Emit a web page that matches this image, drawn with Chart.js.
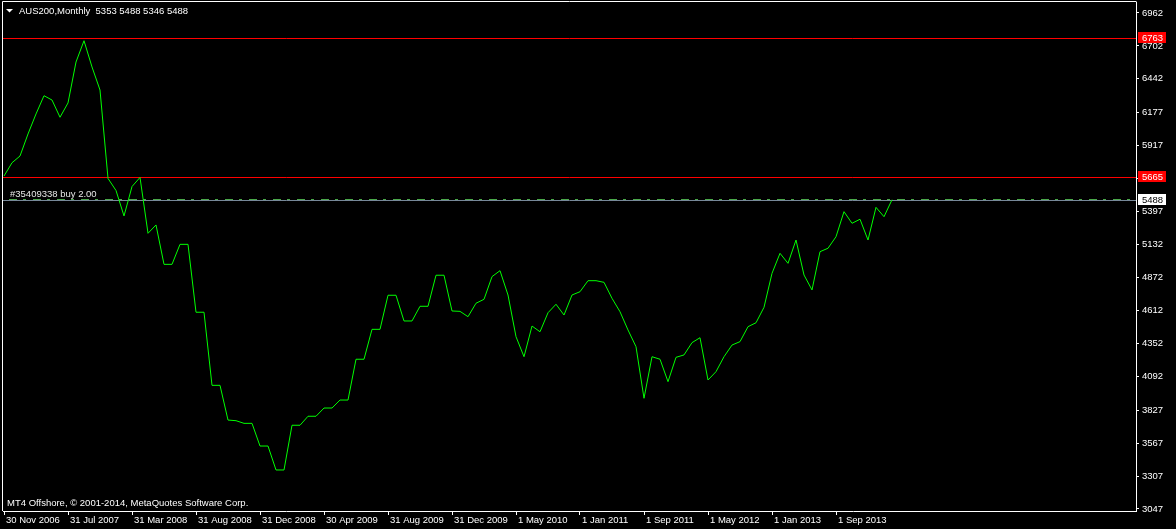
<!DOCTYPE html>
<html>
<head>
<meta charset="utf-8">
<script src="https://cdn.jsdelivr.net/npm/chart.js@4.4.1/dist/chart.umd.min.js"></script>
<style>
  html, body { margin: 0; padding: 0; background: #000; }
  #wrap { width: 1176px; height: 529px; }
</style>
</head>
<body>
<div id="wrap"><canvas id="mt4Chart" width="1176" height="529"></canvas></div>
<script>
// AUS200 monthly closes, one value per bar (MT4 line chart)
const closes = [
  5675, 5780, 5833, 6007, 6165, 6309, 6275, 6139, 6252, 6575,
  6743, 6536, 6354, 5656, 5561, 5360, 5592, 5664, 5223, 5289,
  4978, 4978, 5136, 5136, 4600, 4600, 4023, 4023, 3749, 3744,
  3723, 3723, 3544, 3544, 3355, 3355, 3708, 3708, 3779, 3779,
  3844, 3844, 3907, 3907, 4229, 4229, 4465, 4465, 4734, 4734,
  4531, 4531, 4647, 4647, 4892, 4892, 4610, 4607, 4565, 4671,
  4702, 4881, 4928, 4736, 4407, 4249, 4491, 4446, 4596, 4663,
  4578, 4736, 4762, 4849, 4849, 4836, 4710, 4604, 4460, 4328,
  3921, 4249, 4229, 4052, 4244, 4263, 4360, 4399, 4065, 4131,
  4249, 4341, 4368, 4486, 4517, 4639, 4907, 5065, 4986, 5170,
  4894, 4776, 5078, 5105, 5196, 5394, 5302, 5334, 5170, 5428,
  5354, 5488
];

// time axis labels, one every 8 bars
const tickBars = [0, 8, 16, 24, 32, 40, 48, 56, 64, 72, 80, 88, 96, 104];
const tickDates = ["30 Nov 2006", "31 Jul 2007", "31 Mar 2008", "31 Aug 2008", "31 Dec 2008",
  "30 Apr 2009", "31 Aug 2009", "31 Dec 2009", "1 May 2010", "1 Jan 2011",
  "1 Sep 2011", "1 May 2012", "1 Jan 2013", "1 Sep 2013"];

// price scale labels
const priceTicks = [3047, 3307, 3567, 3827, 4092, 4352, 4612, 4872, 5132, 5397,
  5657, 5917, 6177, 6442, 6702, 6962];

const hLines = [6763, 5665];   // red horizontal lines
const orderPrice = 5488;       // order / bid line
const headerText = "AUS200,Monthly  5353 5488 5346 5488";
const orderText = "#35409338 buy 2.00";
const footerText = "MT4 Offshore, \u00A9 2001-2014, MetaQuotes Software Corp.";

const FONT = "9.5px 'Liberation Sans', Arial, sans-serif";

function priceBox(ctx, y, value, bg, fg) {
  const row = Math.round(y);
  ctx.fillStyle = bg;
  ctx.fillRect(1138, row - 6, 28, 11);
  ctx.fillStyle = fg;
  ctx.font = FONT;
  ctx.textAlign = 'left';
  ctx.textBaseline = 'middle';
  ctx.fillText(String(value), 1142, row);
}

const mt4Overlay = {
  id: 'mt4Overlay',
  beforeDraw(chart) {
    const ctx = chart.ctx;
    ctx.save();
    ctx.fillStyle = '#000';
    ctx.fillRect(0, 0, chart.width, chart.height);
    ctx.restore();
  },
  beforeDatasetsDraw(chart) {
    const ctx = chart.ctx;
    const a = chart.chartArea;
    const ys = chart.scales.y;
    ctx.save();
    ctx.lineWidth = 1;
    ctx.strokeStyle = '#ff0000';
    hLines.forEach(v => {
      const py = Math.round(ys.getPixelForValue(v)) + 0.5;
      ctx.beginPath();
      ctx.moveTo(a.left, py);
      ctx.lineTo(a.right, py);
      ctx.stroke();
    });
    // bid line and order line
    const oy = Math.round(ys.getPixelForValue(orderPrice));
    ctx.strokeStyle = '#778899';
    ctx.beginPath();
    ctx.moveTo(a.left, oy + 0.5);
    ctx.lineTo(a.right, oy + 0.5);
    ctx.stroke();
    ctx.strokeStyle = '#4aa84a';
    ctx.setLineDash([8, 6, 3, 7]);
    ctx.lineDashOffset = -6;
    ctx.beginPath();
    ctx.moveTo(a.left, oy - 0.5);
    ctx.lineTo(a.right, oy - 0.5);
    ctx.stroke();
    ctx.restore();
  },
  afterDraw(chart) {
    const ctx = chart.ctx;
    const a = chart.chartArea;
    const ys = chart.scales.y;
    ctx.save();
    // left and top frame
    ctx.strokeStyle = '#ffffff';
    ctx.lineWidth = 1;
    ctx.beginPath();
    ctx.moveTo(2.5, a.bottom);
    ctx.lineTo(2.5, 1.5);
    ctx.lineTo(a.right + 0.5, 1.5);
    ctx.stroke();

    // price boxes on the right scale
    hLines.forEach(v => priceBox(ctx, ys.getPixelForValue(v), v, '#ff0000', '#ffffff'));
    priceBox(ctx, ys.getPixelForValue(orderPrice), orderPrice, '#ffffff', '#000000');

    ctx.font = FONT;
    ctx.textAlign = 'left';
    ctx.textBaseline = 'middle';
    // header
    ctx.fillStyle = '#ffffff';
    ctx.beginPath();
    ctx.moveTo(6, 9);
    ctx.lineTo(13, 9);
    ctx.lineTo(9.5, 12.5);
    ctx.closePath();
    ctx.fill();
    ctx.fillText(headerText, 19, 11);
    // order label
    ctx.fillStyle = '#e6e6e6';
    ctx.fillText(orderText, 10, Math.round(ys.getPixelForValue(orderPrice)) - 6);
    // footer
    ctx.fillStyle = '#ffffff';
    ctx.fillText(footerText, 7, 503);
    ctx.restore();
  }
};

Chart.defaults.font.family = "'Liberation Sans', Arial, sans-serif";
Chart.defaults.font.size = 9.5;
Chart.defaults.color = '#ffffff';

const chart = new Chart("mt4Chart", {
  type: 'line',
  data: {
    datasets: [{
      label: 'AUS200',
      data: closes.map((v, i) => ({ x: i, y: v })),
      borderColor: '#00ff00',
      borderWidth: 1,
      pointRadius: 0,
      tension: 0,
      fill: false
    }]
  },
  options: {
    responsive: false,
    animation: false,
    devicePixelRatio: 1,
    layout: { padding: { left: 3, top: 2, right: 0, bottom: 0 } },
    plugins: {
      legend: { display: false },
      tooltip: { enabled: false },
      title: { display: false }
    },
    scales: {
      x: {
        type: 'linear',
        min: -0.125,
        max: 141.5,
        afterBuildTicks: s => { s.ticks = tickBars.map(v => ({ value: v })); },
        afterFit: s => {
          s.height = 18;
          s.paddingLeft = 0; s.paddingRight = 0; s.paddingTop = 0; s.paddingBottom = 0;
        },
        ticks: {
          autoSkip: false,
          maxRotation: 0,
          align: 'start',
          labelOffset: 2,
          padding: 0,
          color: '#ffffff',
          callback: (value, index) => tickDates[index]
        },
        grid: {
          drawOnChartArea: false,
          drawTicks: true,
          tickLength: 4,
          tickColor: '#ffffff',
          color: '#ffffff'
        },
        border: { display: true, color: '#ffffff' }
      },
      y: {
        position: 'right',
        min: 3031.2,
        max: 7048.7,
        afterBuildTicks: s => { s.ticks = priceTicks.map(v => ({ value: v })); },
        afterFit: s => {
          s.width = 40;
          s.paddingLeft = 0; s.paddingRight = 0; s.paddingTop = 0; s.paddingBottom = 0;
        },
        ticks: {
          autoSkip: false,
          padding: 3,
          color: '#ffffff',
          callback: v => String(v)
        },
        grid: {
          drawOnChartArea: false,
          drawTicks: true,
          tickLength: 3,
          tickColor: '#ffffff',
          color: '#ffffff'
        },
        border: { display: true, color: '#ffffff' }
      }
    }
  },
  plugins: [mt4Overlay]
});
</script>
</body>
</html>
